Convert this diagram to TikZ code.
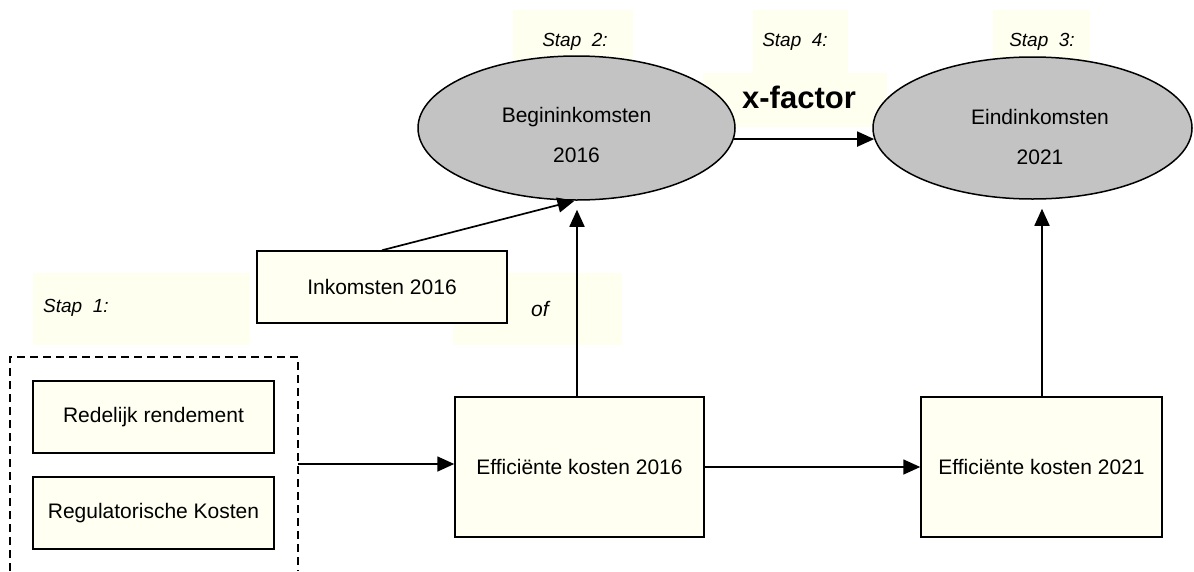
\documentclass[tikz,border=0pt]{standalone}
\usepackage{fontspec}
\setmainfont{Liberation Sans}
\usetikzlibrary{shapes.geometric,arrows.meta}
\definecolor{boxfill}{RGB}{255,255,242}
\definecolor{bgfill}{RGB}{255,255,240}
\definecolor{ellfill}{RGB}{195,195,195}
\newcommand\fsz[1]{\fontsize{#1}{#1}\selectfont}
\tikzset{
  boxnode/.style={draw, fill=boxfill, line width=1.5pt, font=\fsz{21}, inner sep=0pt},
  ellnode/.style={ellipse, draw, fill=ellfill, line width=1.5pt, inner sep=0pt},
  bgfillstyle/.style={fill=bgfill, draw=none},
  stap/.style={font=\itshape\fsz{19}, inner sep=0pt},
  arr/.style={line width=1.7pt, -{Triangle[length=17pt,width=15pt]}},
}
\begin{document}
\begin{tikzpicture}[x=1pt,y=-1pt]
\useasboundingbox (0,0) rectangle (1194,571);
% pale label backgrounds
\fill[bgfillstyle] (33,273) rectangle (250,345);
\fill[bgfillstyle] (453,273) rectangle (622,345);
\fill[bgfillstyle] (513,10) rectangle (633,60);
\fill[bgfillstyle] (753,10) rectangle (848,73);
\fill[bgfillstyle] (703,73) rectangle (887,127);
\fill[bgfillstyle] (993,10) rectangle (1090,60);
% dashed group
\draw[dashed, dash pattern=on 8pt off 5pt, line width=1.4pt] (10,571) -- (10,357) -- (298,357) -- (298,571);
\coordinate (dashR) at (298,464);
% nodes
\node[boxnode, minimum width=241pt, minimum height=72pt] (red) at (153.5,417) {Redelijk rendement};
\node[boxnode, minimum width=241pt, minimum height=72pt] (reg) at (153.5,513) {Regulatorische Kosten};
\node[boxnode, minimum width=250pt, minimum height=72pt] (ink) at (382,287) {Inkomsten 2016};
\node[boxnode, minimum width=249pt, minimum height=140pt] (eff16) at (579.5,467) {Efficiënte kosten 2016};
\node[boxnode, minimum width=241pt, minimum height=140pt] (eff21) at (1041.5,467) {Efficiënte kosten 2021};
\node[ellnode, minimum width=317pt, minimum height=144pt] (beg) at (576.5,128) {};
\node[ellnode, minimum width=319pt, minimum height=142pt] (eind) at (1032.5,128) {};
\node[font=\fsz{21}, align=center, inner sep=0pt] (begtxt) at (576.5,135) {Begininkomsten\\[19pt]2016};
\node[font=\fsz{21}, align=center, inner sep=0pt] (eindtxt) at (1040,137) {Eindinkomsten\\[19pt]2021};
% labels
\node[stap, anchor=west] (s1) at (43,308) {Stap\ \ 1:};
\node[stap] (s2) at (575,42) {Stap\ \ 2:};
\node[stap] (s4) at (795,42) {Stap\ \ 4:};
\node[stap] (s3) at (1042,42) {Stap\ \ 3:};
\node[font=\bfseries\fsz{31}, inner sep=0pt] (xf) at (799,97) {x-factor};
\node[font=\itshape\fsz{21}, inner sep=0pt] (of) at (540,309) {of};
% connectors
\draw[arr] (dashR) -- (dashR -| eff16.west);
\draw[arr] (eff16.east) -- (eff21.west);
\draw[arr] (eff16.north -| 577,0) -- ([yshift=-9pt]beg.south -| 577,0);
\draw[arr] (eff21.north -| 1042,0) -- ([yshift=-9pt]eind.south -| 1042,0);
\draw[arr] (ink.north) -- ([xshift=-2pt]beg.south);
\draw[arr] (beg.-4) -- (eind.184);
\end{tikzpicture}
\end{document}
